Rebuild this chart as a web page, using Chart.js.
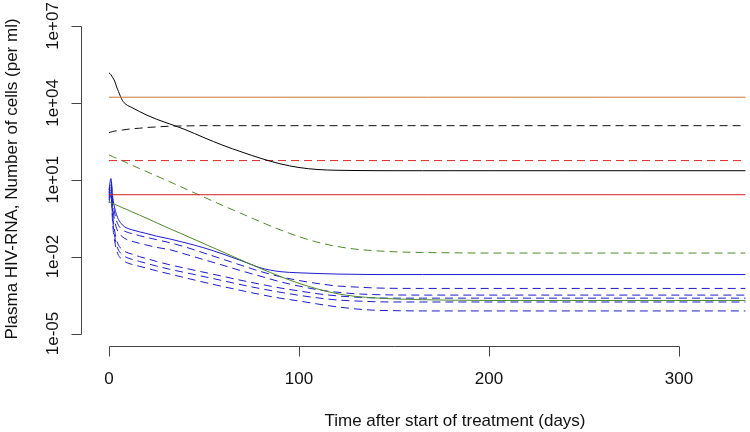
<!DOCTYPE html>
<html>
<head>
<meta charset="utf-8">
<script src="https://cdn.jsdelivr.net/npm/chart.js@4.4.1/dist/chart.umd.min.js"></script>
<style>
html,body{margin:0;padding:0;background:#fff}
#c{display:block}
</style>
</head>
<body>
<canvas id="c" width="750" height="432"></canvas>
<script>
'use strict';

/* ═══════════ DATA ═══════════ */
var days=[0,1,2,3,4,5,7,9,12,16,20,25,32,40,50,60,70,80,90,100,110,120,130,140,150,165,180,200,240,280,335];
var flatDays=[0,335];
var xTicks=[0,100,200,300];
var yTicks=[1e-5,1e-2,1e1,1e4,1e7];
var yTickLabels=['1e-05','1e-02','1e+01','1e+04','1e+07'];

var blackSolid=[1.48e5,1.26e5,9.5e4,7.1e4,4.2e4,2.75e4,1.26e4,8.7e3,6.6e3,4.6e3,3.3e3,2.3e3,1.5e3,910,440,220,120,68,42,30,25,23.4,22.9,22.6,22.5,22.5,22.5,22.5,22.5,22.5,22.5];
var blackDash=[692,724,759,794,813,832,871,912,977,1023,1096,1148,1230,1259,1288,1288,1288,1288,1288,1288,1288,1288,1288,1288,1288,1288,1288,1288,1288,1288,1288];
var greenDash=[93,87,79,74,69,63,55,47,37,27.5,20.4,14.1,8.3,4.5,2.09,0.98,0.47,0.224,0.112,0.060,0.036,0.025,0.0195,0.017,0.0155,0.0145,0.0141,0.0138,0.0138,0.0138,0.0138];
var greenSolid=[1.38,1.29,1.17,1.10,1.02,0.955,0.81,0.71,0.56,0.42,0.31,0.21,0.123,0.068,0.032,0.0151,0.0071,0.0034,0.0017,9.1e-4,5.4e-4,3.6e-4,2.8e-4,2.45e-4,2.24e-4,2.09e-4,2.0e-4,1.95e-4,1.95e-4,1.95e-4,1.95e-4];
var blueSolid=[4.0,11.2,2.0,0.79,0.43,0.28,0.174,0.135,0.112,0.093,0.079,0.063,0.049,0.035,0.022,0.0126,0.0068,0.0036,0.0026,0.00234,0.00219,0.00209,0.00204,0.0020,0.0020,0.0020,0.0020,0.0020,0.0020,0.0020,0.0020];
var blueDashA=[3.16,8.9,1.41,0.50,0.25,0.166,0.112,0.093,0.079,0.066,0.056,0.046,0.035,0.024,0.0138,0.0079,0.0045,0.0026,0.00166,0.00117,8.9e-4,7.2e-4,6.5e-4,6.0e-4,5.8e-4,5.75e-4,5.75e-4,5.75e-4,5.75e-4,5.75e-4,5.75e-4];
var blueDashB=[2.5,7.1,0.79,0.25,0.126,0.089,0.060,0.048,0.040,0.033,0.028,0.023,0.0186,0.0126,0.0076,0.0046,0.00275,0.0017,0.00105,7.1e-4,5.1e-4,4.1e-4,3.55e-4,3.3e-4,3.2e-4,3.16e-4,3.16e-4,3.16e-4,3.16e-4,3.16e-4,3.16e-4];
var blueDashC=[2.0,5.0,0.40,0.10,0.045,0.028,0.019,0.015,0.0126,0.010,0.0083,0.0065,0.0048,0.00355,0.00245,0.0017,0.00117,8.3e-4,6.0e-4,4.6e-4,3.55e-4,2.95e-4,2.63e-4,2.45e-4,2.4e-4,2.4e-4,2.4e-4,2.4e-4,2.4e-4,2.4e-4,2.4e-4];
var blueDashD=[1.58,3.5,0.25,0.063,0.028,0.0178,0.012,0.0095,0.0079,0.0065,0.0054,0.0043,0.0032,0.0024,0.00166,0.00115,7.9e-4,5.6e-4,4.1e-4,3.1e-4,2.45e-4,2.04e-4,1.86e-4,1.74e-4,1.7e-4,1.7e-4,1.7e-4,1.7e-4,1.7e-4,1.7e-4,1.7e-4];
var blueDashE=[1.26,2.5,0.158,0.040,0.0178,0.0112,0.0076,0.006,0.005,0.0042,0.0035,0.0028,0.0021,0.0015,0.0010,6.8e-4,4.7e-4,3.3e-4,2.4e-4,1.86e-4,1.41e-4,1.1e-4,9.1e-5,8.1e-5,7.8e-5,7.6e-5,7.6e-5,7.6e-5,7.6e-5,7.6e-5,7.6e-5];
var orangeFlat=[1.66e4,1.66e4];
var redDashFlat=[56,56];
var redSolidFlat=[2.6,2.6];

/* ═══════════ HELPERS ═══════════ */
var FONT='17px "Liberation Sans", Arial, sans-serif';
var DASH=[8,5];
function pts(xs,ys){return xs.map(function(x,i){return{x:x,y:ys[i]}})}
function ds(xs,ys,color,dashed){return{data:pts(xs,ys),borderColor:color,borderWidth:1,borderDash:dashed?DASH:[],
  pointRadius:0,fill:false,cubicInterpolationMode:'monotone'}}

/* R-style detached axes, placed through the chart's own scales */
var rAxes={id:'rAxes',afterDraw:function(chart){
  var c=chart.ctx,xs=chart.scales.x,ys=chart.scales.y,ca=chart.chartArea;
  c.save();c.strokeStyle='#444';c.lineWidth=1;c.fillStyle='#111';c.font=FONT;
  /* y axis */
  var ax=ca.left+0.5,y0=ys.getPixelForValue(yTicks[0]),y1=ys.getPixelForValue(yTicks[yTicks.length-1]);
  c.beginPath();c.moveTo(ax,Math.round(y0)+0.5);c.lineTo(ax,Math.round(y1)+0.5);
  yTicks.forEach(function(v){var p=Math.round(ys.getPixelForValue(v))+0.5;c.moveTo(ax,p);c.lineTo(ax-10,p)});
  c.stroke();
  c.textAlign='center';c.textBaseline='alphabetic';
  yTicks.forEach(function(v,i){var p=ys.getPixelForValue(v);
    c.save();c.translate(58,p);c.rotate(-Math.PI/2);c.fillText(yTickLabels[i],0,0);c.restore()});
  /* x axis */
  var ay=Math.round(ca.bottom)+0.5,x0=Math.round(xs.getPixelForValue(xTicks[0]))+0.5,x1=Math.round(xs.getPixelForValue(xTicks[xTicks.length-1]))+0.5;
  c.beginPath();c.moveTo(x0,ay);c.lineTo(x1,ay);
  xTicks.forEach(function(v){var p=Math.round(xs.getPixelForValue(v))+0.5;c.moveTo(p,ay);c.lineTo(p,ay+10)});
  c.stroke();
  xTicks.forEach(function(v){c.fillText(String(v),xs.getPixelForValue(v),384)});
  /* titles */
  c.fillText('Time after start of treatment (days)',455,426);
  c.save();c.translate(17,179);c.rotate(-Math.PI/2);c.fillText('Plasma HIV-RNA, Number of cells (per ml)',0,0);c.restore();
  c.restore()}};

/* ═══════════ CHART ═══════════ */
new Chart(document.getElementById('c'),{type:'line',
  data:{datasets:[
    ds(flatDays,orangeFlat,'#cc7633',false),
    ds(days,blackDash,'#111111',true),
    ds(days,blackSolid,'#000000',false),
    ds(flatDays,redDashFlat,'#dd2a2a',true),
    ds(flatDays,redSolidFlat,'#d42020',false),
    ds(days,greenDash,'#4e8a2a',true),
    ds(days,greenSolid,'#4e8a2a',false),
    ds(days,blueDashA,'#1c1cc8',true),
    ds(days,blueDashB,'#1c1cc8',true),
    ds(days,blueDashC,'#1c1cc8',true),
    ds(days,blueDashD,'#1c1cc8',true),
    ds(days,blueDashE,'#1c1cc8',true),
    ds(days,blueSolid,'#1c1cd0',false)]},
  options:{responsive:false,animation:false,events:[],
    layout:{padding:{left:81,right:0,top:0,bottom:86}},
    plugins:{legend:{display:false},tooltip:{enabled:false}},
    scales:{
      x:{type:'linear',display:false,bounds:'data',min:-14.74,max:337.4},
      y:{type:'logarithmic',display:false,bounds:'data',min:3.26e-6,max:1.03e8}}},
  plugins:[rAxes]});
</script>
</body>
</html>
